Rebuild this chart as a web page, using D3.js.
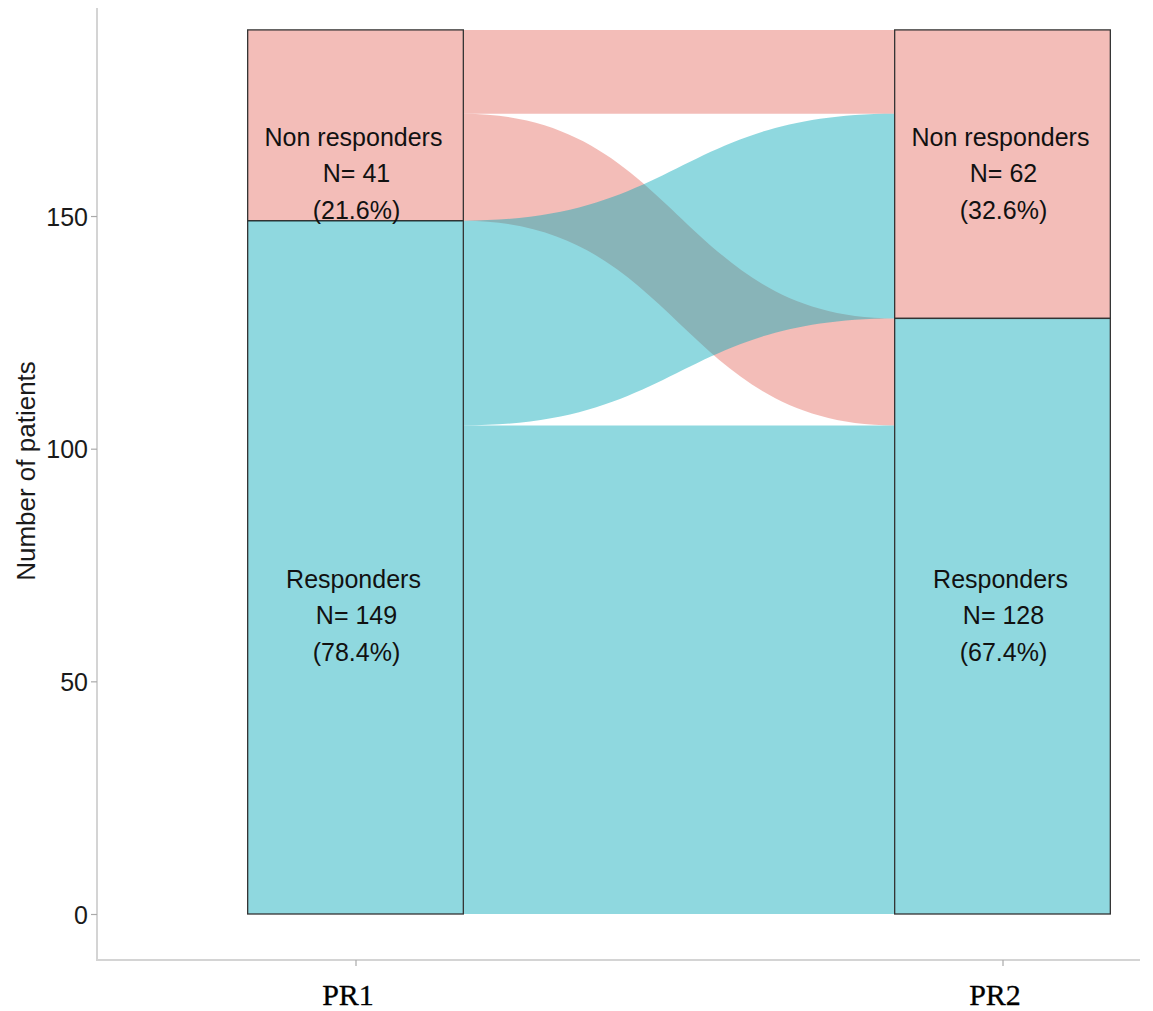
<!DOCTYPE html>
<html>
<head>
<meta charset="utf-8">
<script src="https://cdn.jsdelivr.net/npm/d3@7"></script>
<style>
html,body{margin:0;padding:0;background:#fff;}
svg{display:block;}
</style>
</head>
<body>
<script>
// ---- data ----
const axesNames = ["PR1", "PR2"];
const strata = ["Non responders", "Responders"];          // top to bottom
const strataCountsPR1 = [41, 149];
const strataCountsPR2 = [62, 128];
const strataPctPR1 = ["21.6%", "78.4%"];
const strataPctPR2 = ["32.6%", "67.4%"];
const flowFrom  = ["Non responders", "Non responders", "Responders", "Responders"];
const flowTo    = ["Non responders", "Responders", "Non responders", "Responders"];
const flowCount = [18, 23, 44, 105];
const labelYValue = [159, 64];   // label centres (data units), shared by both axes
const yTicks = [0, 50, 100, 150];

// ---- layout ----
const W = 1153, H = 1011;
const SANS = "'Liberation Sans', Arial, Helvetica, sans-serif";
const SERIF = "'Liberation Serif', 'Times New Roman', serif";
const colors = {"Non responders": "rgba(228,108,97,0.45)", "Responders": "rgba(6,168,184,0.45)"};

const svg = d3.select("body").append("svg").attr("width", W).attr("height", H);

const total = d3.sum(strataCountsPR1);
const y = d3.scaleLinear().domain([0, 190]).range([914, 29.9]);
const x = d3.scalePoint().domain(axesNames).range([355.5, 1002.5]);
const boxW = (x("PR2") - x("PR1")) / 3;

// axes lines
const axisColor = "#d4d4d4";
svg.append("line").attr("x1", 97).attr("x2", 97).attr("y1", 8).attr("y2", 961)
  .attr("stroke", axisColor).attr("stroke-width", 2);
svg.append("line").attr("x1", 96).attr("x2", 1140).attr("y1", 960).attr("y2", 960)
  .attr("stroke", axisColor).attr("stroke-width", 2);

// y axis ticks
const yAxis = d3.axisLeft(y).tickValues(yTicks).tickSize(6).tickPadding(3);
const gy = svg.append("g").attr("transform", "translate(97,0)").call(yAxis);
gy.select(".domain").remove();
gy.selectAll(".tick line").attr("stroke", "#aaa").attr("stroke-width", 1.2);
gy.selectAll(".tick text").attr("font-family", SANS)
  .attr("font-size", 25).attr("fill", "#1a1a1a").attr("dy", "0.36em");

// x axis ticks
const xAxis = d3.axisBottom(x).tickSize(6).tickPadding(18);
const gx = svg.append("g").attr("transform", "translate(0,960)").call(xAxis);
gx.select(".domain").remove();
gx.selectAll(".tick line").attr("stroke", "#aaa").attr("stroke-width", 1.2);
gx.selectAll(".tick text").attr("font-family", SERIF)
  .attr("font-size", 30).attr("fill", "#000").attr("stroke", "#000").attr("stroke-width", 0.3)
  .attr("dx", -8).attr("dy", "0.71em");

// y title
svg.append("text").attr("transform", "translate(35,471) rotate(-90)")
  .attr("text-anchor", "middle").attr("font-family", SANS)
  .attr("font-size", 26).attr("fill", "#1a1a1a").text("Number of patients");

// ---- flow stacking ----
const sIdx = s => strata.indexOf(s);
const flows = flowCount.map((c, i) => ({from: flowFrom[i], to: flowTo[i], count: c}));
let cum = total;
flows.slice().sort((a, b) => sIdx(a.from) - sIdx(b.from) || sIdx(a.to) - sIdx(b.to))
  .forEach(f => { f.l1 = cum; f.l0 = cum - f.count; cum -= f.count; });
cum = total;
flows.slice().sort((a, b) => sIdx(a.to) - sIdx(b.to) || sIdx(a.from) - sIdx(b.from))
  .forEach(f => { f.r1 = cum; f.r0 = cum - f.count; cum -= f.count; });

const xa = x("PR1") + boxW / 2, xb = x("PR2") - boxW / 2, xm = (xa + xb) / 2;
function flowPath(f) {
  const p = d3.path();
  p.moveTo(xa, y(f.l1));
  p.bezierCurveTo(xm, y(f.l1), xm, y(f.r1), xb, y(f.r1));
  p.lineTo(xb, y(f.r0));
  p.bezierCurveTo(xm, y(f.r0), xm, y(f.l0), xa, y(f.l0));
  p.closePath();
  return p.toString();
}
svg.append("g").selectAll("path")
  .data(flows.slice().sort((a, b) => sIdx(a.from) - sIdx(b.from)))
  .join("path").attr("d", flowPath).attr("fill", d => colors[d.from]);

// ---- strata boxes ----
const nodes = [];
[[ "PR1", strataCountsPR1, strataPctPR1 ], [ "PR2", strataCountsPR2, strataPctPR2 ]].forEach(([ax, counts, pcts]) => {
  let c = total;
  strata.forEach((s, i) => {
    nodes.push({axis: ax, stratum: s, top: c, bottom: c - counts[i], n: counts[i], pct: pcts[i], labelY: labelYValue[i]});
    c -= counts[i];
  });
});
const gn = svg.append("g");
gn.selectAll("rect.bg").data(nodes).join("rect").attr("class", "bg")
  .attr("x", d => x(d.axis) - boxW / 2).attr("width", boxW)
  .attr("y", d => y(d.top)).attr("height", d => y(d.bottom) - y(d.top))
  .attr("fill", "#fff");
gn.selectAll("rect.fill").data(nodes).join("rect").attr("class", "fill")
  .attr("x", d => x(d.axis) - boxW / 2).attr("width", boxW)
  .attr("y", d => y(d.top)).attr("height", d => y(d.bottom) - y(d.top))
  .attr("fill", d => colors[d.stratum])
  .attr("stroke", "#333").attr("stroke-width", 1.3);

// labels
const lineH = 36.5;
const gl = svg.append("g").attr("font-family", SANS)
  .attr("font-size", 25).attr("fill", "#111").attr("text-anchor", "middle");
nodes.forEach(d => {
  const lines = [d.stratum, "N= " + d.n, "(" + d.pct + ")"];
  lines.forEach((t, i) => {
    gl.append("text").attr("x", x(d.axis) + (i === 0 ? -2 : 1))
      .attr("y", y(d.labelY) + (i - 1) * lineH + 8).text(t);
  });
});
</script>
</body>
</html>
